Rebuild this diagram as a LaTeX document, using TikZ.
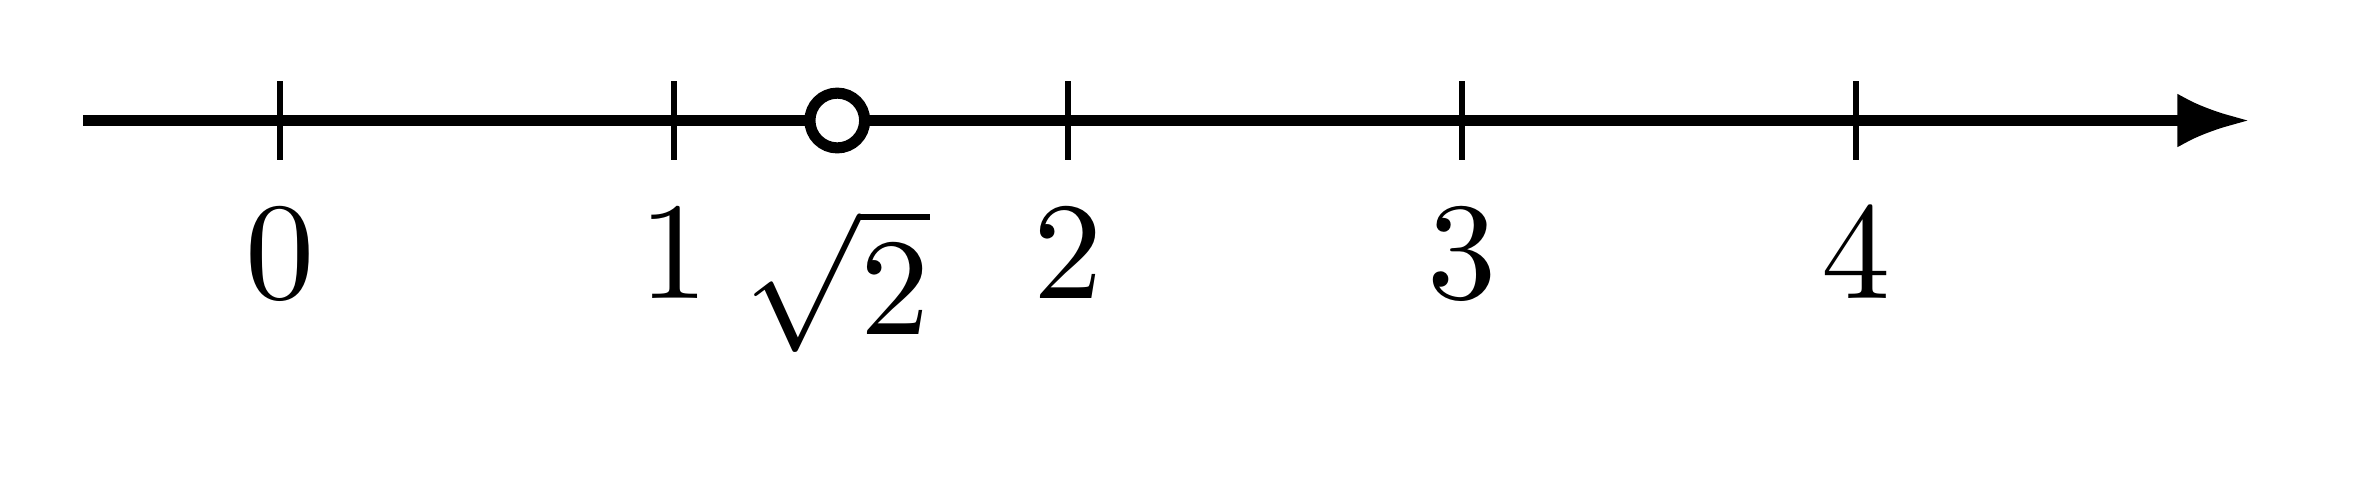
\documentclass[tikz,border=0pt]{standalone}
\usepackage{tikz}
\usetikzlibrary{arrows.meta,positioning}

\begin{document}
\begin{tikzpicture}[
        axis/.style={line width=0.85pt,-{Latex[length=1.85mm,width=1.37mm]}},
        tick/.style={line width=0.45pt},
        num/.style={inner sep=3.33pt,font=\fontsize{10.4pt}{12pt}\selectfont},
        hole/.style={circle,draw,fill=white,line width=0.8pt,inner sep=0pt,minimum size=1.39mm}]
        \useasboundingbox (-0.711,-0.907) rectangle (5.314,0.306);
        \coordinate (start) at (-0.5,0);
        \coordinate (tip) at (5,0);
        \draw[axis](start)--(tip);
        \coordinate (t0) at (0,0);\coordinate (t1) at (1,0);\coordinate (t2) at (2,0);
        \coordinate (t3) at (3,0);\coordinate (t4) at (4,0);\coordinate (r) at (1.414,0);
        \draw[tick](0,0.1)--(0,-0.1);\draw[tick](1,0.1)--(1,-0.1);\draw[tick](2,0.1)--(2,-0.1);
        \draw[tick](3,0.1)--(3,-0.1);\draw[tick](4,0.1)--(4,-0.1);
        \node[hole] (p) at (r) {};
        \node[num,below=0.1cm of t0](n0){$0$};
        \node[num,below=0.1cm of t1](n1){$1$};
        \node[num,below=0.1cm of r](nr){$\sqrt{2}$};
        \node[num,below=0.1cm of t2](n2){$2$};
        \node[num,below=0.1cm of t3](n3){$3$};
        \node[num,below=0.1cm of t4](n4){$4$};
      \end{tikzpicture}
\end{document}
